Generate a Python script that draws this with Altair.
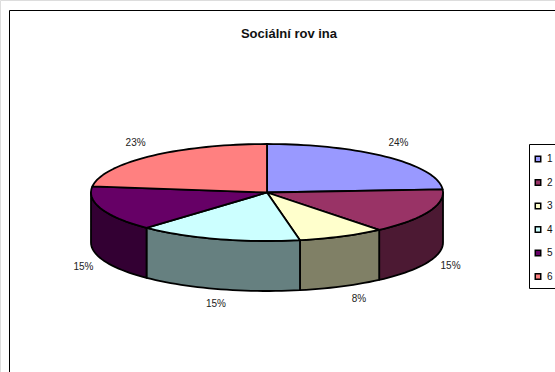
import math
import altair as alt

# Shares of each answer category, in percent, clockwise from twelve o'clock
categories = ["1", "2", "3", "4", "5", "6"]
shares = [24, 15, 8, 15, 15, 23]
top_colors = ["#9999FF", "#993366", "#FFFFCC", "#CCFFFF", "#660066", "#FF8080"]
side_colors = ["#4C4C80", "#4C1933", "#808066", "#668080", "#330033", "#804040"]
label_nudges = [(11, -14), (22, 54), (17, 63), (-2, 65), (-18, 58), (-15, -13)]

TITLE = "Sociální rov ina"
TILT = 48.5 / 176
DEPTH = 50 / 176
PX = 176  # one unit of the pie's radius, in pixels


def rim(deg, drop=0.0):
    """Point on the pie's elliptical rim; 0 degrees is straight up, clockwise."""
    a = math.radians(deg)
    return [math.sin(a), TILT * math.cos(a) - drop]


def arc(a, b, drop=0.0):
    n = max(2, int(abs(b - a) / 2) + 1)
    return [rim(a + (b - a) * i / (n - 1), drop) for i in range(n)]


def feature(ring, **props):
    return {
        "type": "Feature",
        "properties": props,
        "geometry": {"type": "Polygon", "coordinates": [ring + [ring[0]]]},
    }


top_faces, side_faces, labels = [], [], []
start = 0.0
for cat, share, side, nudge in zip(categories, shares, side_colors, label_nudges):
    end = start + share * 3.6
    top_faces.append(feature([[0, 0]] + arc(start, end), cat=cat))
    lo, hi = max(start, 90), min(end, 270)
    if lo < hi:
        side_faces.append(
            feature(arc(lo, hi) + arc(hi, lo, DEPTH), color=side)
        )
    mid = rim((start + end) / 2)
    labels.append(
        {
            "lon": mid[0] + nudge[0] / PX,
            "lat": mid[1] - nudge[1] / PX,
            "text": f"{share}%",
        }
    )
    start = end

sides = (
    alt.Chart(alt.Data(values=side_faces))
    .mark_geoshape(stroke="#000000", strokeWidth=1.8, strokeJoin="round")
    .encode(fill=alt.Fill("properties.color:N", scale=None))
)

tops = (
    alt.Chart(alt.Data(values=top_faces))
    .mark_geoshape(stroke="#000000", strokeWidth=1.8, strokeJoin="round")
    .encode(
        fill=alt.Fill(
            "properties.cat:N",
            scale=alt.Scale(domain=categories, range=top_colors),
            legend=alt.Legend(
                title=" ",
                titleFontSize=1,
                titlePadding=4,
                orient="none",
                legendX=529,
                legendY=144,
                strokeColor="#000000",
                fillColor="#FFFFFF",
                padding=5,
                symbolType="square",
                symbolSize=30,
                symbolOffset=-1,
                symbolStrokeColor="#000000",
                symbolStrokeWidth=1.5,
                labelFont="Liberation Sans",
                labelFontSize=10,
                labelColor="#111111",
                labelOffset=4,
                rowPadding=11.5,
            ),
        )
    )
)

pct_labels = (
    alt.Chart(alt.Data(values=labels))
    .mark_text(font="Liberation Sans", fontSize=10, color="#222222")
    .encode(longitude="lon:Q", latitude="lat:Q", text="text:N")
)

pie = alt.layer(sides, tops, pct_labels).project(
    type="identity", scale=PX, translate=[267, 192.5], reflectY=True
)

# The chart area's border runs off the canvas on the right and at the bottom
frame_left = alt.Chart(alt.Data(values=[{}])).mark_rule(color="#000000", strokeWidth=1).encode(
    x=alt.value(9.5), y=alt.value(10.5), y2=alt.value(372)
)
frame_top = alt.Chart(alt.Data(values=[{}])).mark_rule(color="#000000", strokeWidth=1).encode(
    x=alt.value(9.5), x2=alt.value(555), y=alt.value(10.5)
)
title = alt.Chart(alt.Data(values=[{"t": TITLE}])).mark_text(
    font="Liberation Sans", fontSize=13, fontWeight="bold", color="#111111"
).encode(x=alt.value(289), y=alt.value(34), text="t:N")

chart = (
    alt.layer(frame_left, frame_top, title, pie)
    .properties(width=555, height=372, padding=0, autosize=alt.AutoSizeParams(type="none"))
    .configure_view(stroke=None)
    .configure(background="#FFFFFF")
)

chart.save("out.html", embed_options={"renderer": "svg", "actions": False})
